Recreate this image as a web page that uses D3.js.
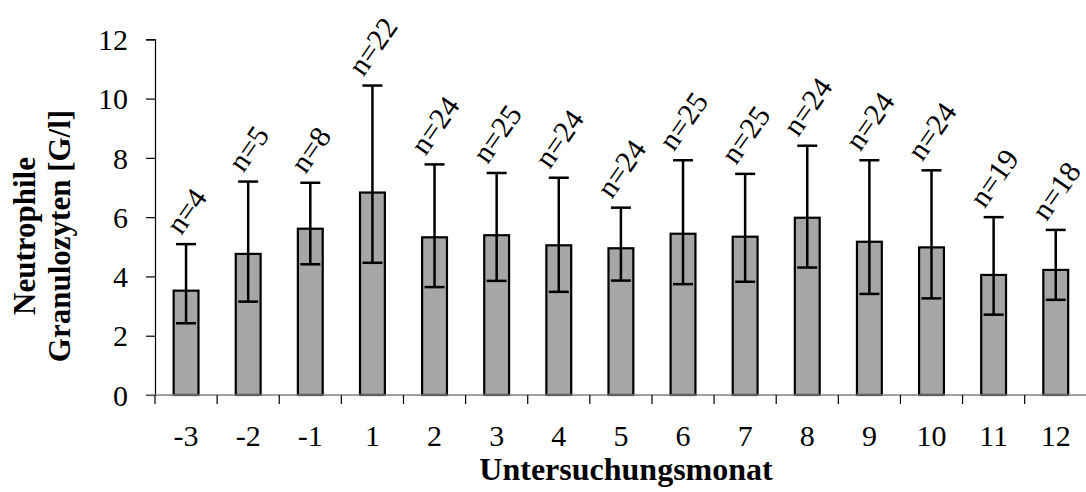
<!DOCTYPE html>
<html>
<head>
<meta charset="utf-8">
<script src="https://cdn.jsdelivr.net/npm/d3@7"></script>
<style>
  html, body { margin: 0; padding: 0; background: #fff; }
  svg { display: block; }
  text { font-family: "Liberation Serif", "Times New Roman", serif; fill: #000; }
</style>
</head>
<body>
<svg id="chart" width="1086" height="492"></svg>
<script>
const categories = ["-3", "-2", "-1", "1", "2", "3", "4", "5", "6", "7", "8", "9", "10", "11", "12"];
const means      = [3.52, 4.76, 5.61, 6.83, 5.32, 5.39, 5.05, 4.95, 5.44, 5.34, 5.98, 5.17, 4.98, 4.05, 4.22];
const errUpper   = [5.09, 7.20, 7.16, 10.44, 7.78, 7.49, 7.33, 6.32, 7.92, 7.46, 8.41, 7.92, 7.58, 6.00, 5.57];
const errLower   = [2.42, 3.15, 4.41, 4.46, 3.64, 3.85, 3.48, 3.86, 3.74, 3.82, 4.30, 3.41, 3.26, 2.71, 3.21];
const nLabels    = ["n=4", "n=5", "n=8", "n=22", "n=24", "n=25", "n=24", "n=24", "n=25", "n=25", "n=24", "n=24", "n=24", "n=19", "n=18"];
const yTicks     = [0, 2, 4, 6, 8, 10, 12];
const xTitle = "Untersuchungsmonat";
const yTitle = ["Neutrophile", "Granulozyten [G/l]"];

const svg = d3.select("#chart");
const plotLeft = 155, plotRight = 1086.8, plotTop = 39.3, plotBottom = 395;

const x = d3.scaleBand().domain(categories).range([plotLeft, plotRight]).paddingInner(0.6).paddingOuter(0.3);
const y = d3.scaleLinear().domain([0, 12]).range([plotBottom, plotTop]);
const step = x.step();

// bars
svg.append("g").selectAll("rect").data(categories).join("rect")
  .attr("x", d => x(d))
  .attr("y", (d, i) => y(means[i]))
  .attr("width", x.bandwidth())
  .attr("height", (d, i) => y(0) - y(means[i]))
  .attr("fill", "#a6a6a6")
  .attr("stroke", "#000")
  .attr("stroke-width", 2.2);

// y axis
const yAxis = svg.append("g").attr("transform", `translate(${plotLeft},0)`)
  .call(d3.axisLeft(y).tickValues(yTicks).tickSize(9).tickPadding(18).tickFormat(d3.format("d")));
yAxis.select(".domain").attr("stroke", "#000").attr("stroke-width", 1.2);
yAxis.selectAll(".tick line").attr("stroke", "#000").attr("stroke-width", 1.2);
yAxis.selectAll(".tick text").style("font-size", "30px").style("font-family", "Liberation Serif, Times New Roman, serif").attr("dy", "0.34em");

// x axis line + boundary ticks
const boundaries = categories.map(c => x(c) + x.bandwidth() / 2 - step / 2).concat([x(categories[categories.length - 1]) + x.bandwidth() / 2 + step / 2]);
svg.append("line").attr("x1", plotLeft - 9).attr("x2", plotRight).attr("y1", y(0)).attr("y2", y(0))
  .attr("stroke", "#808080").attr("stroke-width", 1.5);
svg.append("g").selectAll("line").data(boundaries).join("line")
  .attr("x1", d => d).attr("x2", d => d).attr("y1", y(0)).attr("y2", y(0) + 9)
  .attr("stroke", "#000").attr("stroke-width", 1.2);

// x tick labels
svg.append("g").selectAll("text").data(categories).join("text")
  .attr("x", d => x(d) + x.bandwidth() / 2)
  .attr("y", 446)
  .attr("text-anchor", "middle")
  .style("font-size", "30px")
  .text(d => d);

// error bars
const eb = svg.append("g").attr("stroke", "#000").attr("stroke-width", 2.5);
categories.forEach((c, i) => {
  const cx = x(c) + x.bandwidth() / 2;
  eb.append("line").attr("x1", cx).attr("x2", cx).attr("y1", y(errLower[i])).attr("y2", y(errUpper[i]));
  eb.append("line").attr("x1", cx - 10).attr("x2", cx + 10).attr("y1", y(errUpper[i])).attr("y2", y(errUpper[i]));
  eb.append("line").attr("x1", cx - 10).attr("x2", cx + 10).attr("y1", y(errLower[i])).attr("y2", y(errLower[i]));
});

// n labels (rotated)
const ang = 55 * Math.PI / 180;
const lab = svg.append("g");
categories.forEach((c, i) => {
  const cx = x(c) + x.bandwidth() / 2;
  const t = lab.append("text")
    .attr("text-anchor", "middle")
    .attr("dominant-baseline", "central")
    .style("font-size", "30px")
    .text(nLabels[i]);
  const w = t.node().getComputedTextLength();
  const h = 21;
  const boxH = w * Math.sin(ang) + h * Math.cos(ang);
  const cy = y(errUpper[i]) - 8 - boxH / 2;
  t.attr("transform", `translate(${cx},${cy}) rotate(-55)`);
});

// axis titles
svg.append("text").attr("x", 626).attr("y", 480).attr("text-anchor", "middle")
  .style("font-size", "32px").style("font-weight", "bold").text(xTitle);

const yt = svg.append("text").attr("transform", "translate(35,236) rotate(-90)").attr("text-anchor", "middle")
  .style("font-size", "31px").style("font-weight", "bold");
yt.append("tspan").attr("x", 0).attr("dy", 0).text(yTitle[0]);
yt.append("tspan").attr("x", 0).attr("dy", 35).text(yTitle[1]);
</script>
</body>
</html>
